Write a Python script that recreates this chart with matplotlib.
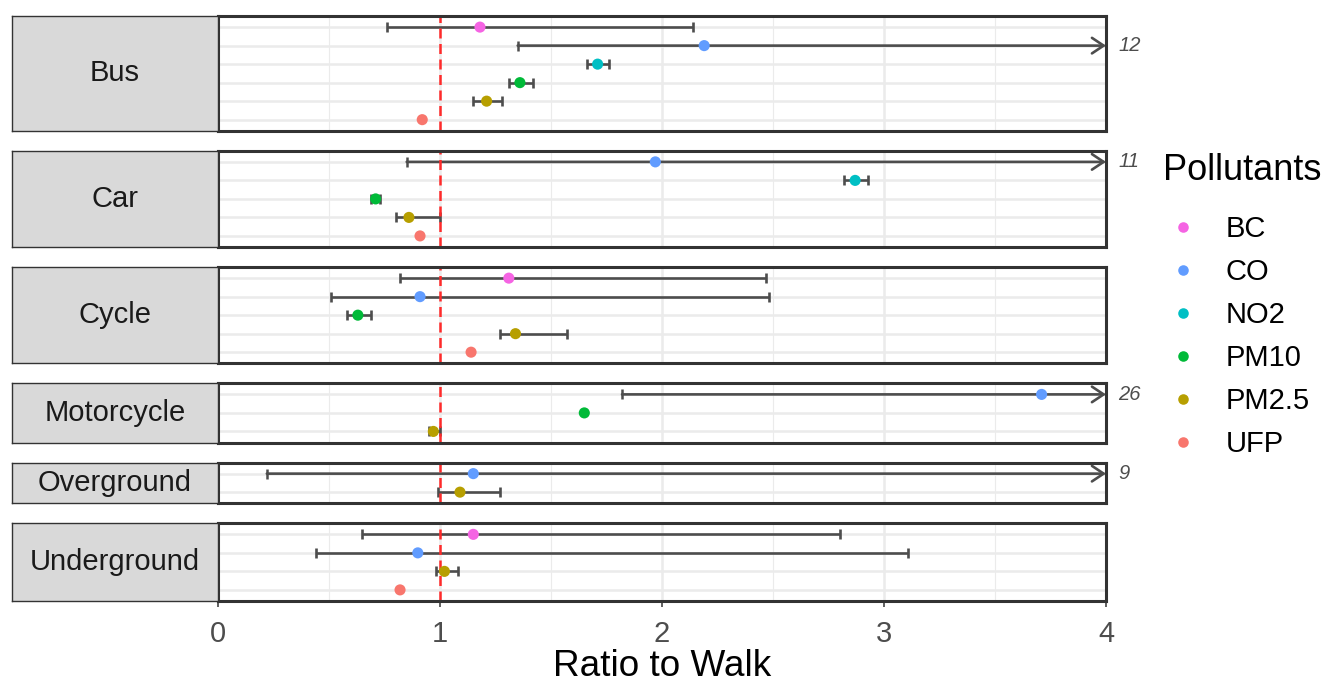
"""Ratio of pollutant exposure to walking, faceted by travel mode."""

import matplotlib.pyplot as plt
from matplotlib.lines import Line2D
import numpy as np
import pandas as pd

plt.rcParams["font.family"] = ["Liberation Sans", "DejaVu Sans"]

# ---- data -------------------------------------------------------------
modes = ["Bus", "Car", "Cycle", "Motorcycle", "Overground", "Underground"]
pollutants = ["BC", "CO", "NO2", "PM10", "PM2.5", "UFP"]
pollutant_colors = ["#F564E3", "#619CFF", "#00BFC4", "#00BA38", "#B79F00", "#F8766D"]

mode_col = (["Bus"] * 6 + ["Car"] * 5 + ["Cycle"] * 5 + ["Motorcycle"] * 3
            + ["Overground"] * 2 + ["Underground"] * 4)
pollutant_col = ["BC", "CO", "NO2", "PM10", "PM2.5", "UFP",
                 "CO", "NO2", "PM10", "PM2.5", "UFP",
                 "BC", "CO", "PM10", "PM2.5", "UFP",
                 "CO", "PM10", "PM2.5",
                 "CO", "PM2.5",
                 "BC", "CO", "PM2.5", "UFP"]
ratio = [1.18, 2.19, 1.71, 1.36, 1.21, 0.92,
         1.97, 2.87, 0.71, 0.86, 0.91,
         1.31, 0.91, 0.63, 1.34, 1.14,
         3.71, 1.65, 0.97,
         1.15, 1.09,
         1.15, 0.90, 1.02, 0.82]
ci_low = [0.76, 1.35, 1.66, 1.31, 1.15, np.nan,
          0.85, 2.82, 0.69, 0.80, np.nan,
          0.82, 0.51, 0.58, 1.27, np.nan,
          1.82, np.nan, 0.95,
          0.22, 0.99,
          0.65, 0.44, 0.98, np.nan]
ci_high = [2.14, 12, 1.76, 1.42, 1.28, np.nan,
           11, 2.93, 0.73, 1.00, np.nan,
           2.47, 2.48, 0.69, 1.57, np.nan,
           26, np.nan, 1.00,
           9, 1.27,
           2.80, 3.11, 1.08, np.nan]

df = pd.DataFrame({"mode": mode_col, "pollutant": pollutant_col,
                   "ratio": ratio, "lo": ci_low, "hi": ci_high})
color_of = dict(zip(pollutants, pollutant_colors))

# ---- layout -----------------------------------------------------------
W, H = 1330, 686
XMAX = 4
fig = plt.figure(figsize=(W / 100, H / 100), dpi=100)

panel_left, panel_right = 218, 1106
strip_left = 12
top_px, bottom_px, gap_px = 16, 601, 20
counts = np.array([(df["mode"] == m).sum() for m in modes])
heights = counts + 0.2
unit = (bottom_px - top_px - gap_px * (len(modes) - 1)) / heights.sum()

err_color = "#4D4D4D"
y_px = top_px
for i, mode in enumerate(modes):
    sub = df[df["mode"] == mode].reset_index(drop=True)
    n = len(sub)
    h = heights[i] * unit
    rect_y = 1 - (y_px + h) / H
    ax = fig.add_axes([panel_left / W, rect_y, (panel_right - panel_left) / W, h / H])
    sax = fig.add_axes([strip_left / W, rect_y, (panel_left - strip_left) / W, h / H])
    y_px += h + gap_px

    # strip
    sax.set_facecolor("#D9D9D9")
    sax.set_xticks([])
    sax.set_yticks([])
    for sp in sax.spines.values():
        sp.set_color("#333333")
        sp.set_linewidth(1.0)
    sax.text(0.5, 0.5, mode, ha="center", va="center", fontsize=21,
             color="#1A1A1A", transform=sax.transAxes)

    # panel
    rows = np.arange(n)[::-1]
    ax.set_xlim(0, XMAX)
    ax.set_ylim(-0.6, n - 0.4)
    ax.set_xticks(np.arange(0, XMAX + 1, 1))
    ax.set_xticks(np.arange(0.5, XMAX, 1), minor=True)
    ax.set_yticks(rows)
    ax.set_yticklabels([])
    ax.grid(True, which="major", color="#EBEBEB", lw=1.8, zorder=0)
    ax.grid(True, which="minor", axis="x", color="#EBEBEB", lw=0.8, zorder=0)
    ax.set_axisbelow(True)
    ax.tick_params(axis="y", length=0)
    ax.tick_params(axis="x", which="minor", length=0)
    for sp in ax.spines.values():
        sp.set_color("#333333")
        sp.set_linewidth(2.2)
        sp.set_zorder(6)

    for r, (_, row) in zip(rows, sub.iterrows()):
        if np.isnan(row["lo"]):
            continue
        if row["hi"] > XMAX:
            ax.plot([row["lo"]], [r], marker="|", ms=7, mew=1.8, color=err_color, zorder=2)
            ax.annotate("", xy=(XMAX, r), xytext=(row["lo"], r),
                        arrowprops=dict(arrowstyle="->,head_length=0.6,head_width=0.4",
                                        color=err_color, lw=1.9, shrinkA=0, shrinkB=0,
                                        mutation_scale=14),
                        annotation_clip=False, zorder=2)
            ax.text(XMAX + 0.055, r, f"{row['hi']:g}", ha="left", va="center",
                    fontsize=14.5, style="italic", color="#4D4D4D", clip_on=False)
        else:
            ax.errorbar(row["ratio"], r,
                        xerr=[[row["ratio"] - row["lo"]], [row["hi"] - row["ratio"]]],
                        fmt="none", ecolor=err_color, elinewidth=1.9, capsize=3.5,
                        capthick=1.9, zorder=2)

    ax.axvline(1, color="#FF2A2A", lw=1.8, ls=(0, (4, 2.2)), zorder=3)
    ax.scatter(sub["ratio"], rows, c=[color_of[p] for p in sub["pollutant"]],
               s=64, edgecolors="none", zorder=4)

    if i == len(modes) - 1:
        ax.tick_params(axis="x", which="major", length=4.5, width=1.1, color="#333333",
                       labelsize=21, labelcolor="#4D4D4D", pad=9)
        ax.set_xlabel("Ratio to Walk", fontsize=26.6, labelpad=1)
    else:
        ax.tick_params(axis="x", which="major", length=0, labelbottom=False)

# ---- legend -----------------------------------------------------------
fig.text(1163 / W, 1 - 170 / H, "Pollutants", fontsize=26, ha="left", va="center")
handles = [Line2D([], [], ls="none", marker="o", ms=7.6, mec="none", mfc=c)
           for c in pollutant_colors]
fig.legend(handles, pollutants, loc="upper left",
           bbox_to_anchor=(1148 / W, 1 - 195 / H), frameon=False, fontsize=21,
           labelspacing=0.51, handlelength=1.0, handletextpad=0.95, borderpad=0.2)

fig.savefig("out.png", dpi=100)
